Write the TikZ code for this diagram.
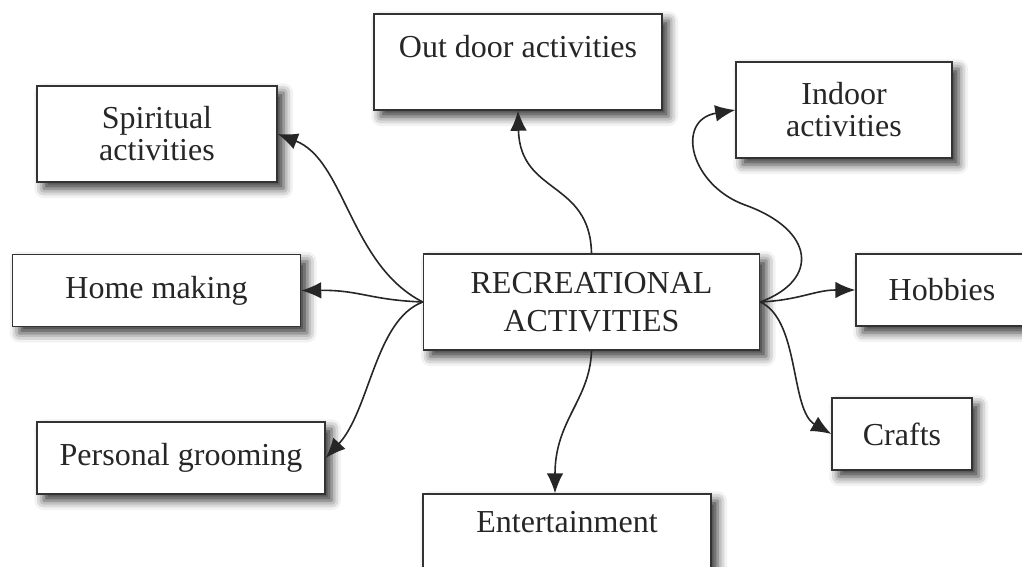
\documentclass[tikz,border=0pt]{standalone}
\usepackage{fontspec}
\setmainfont{Liberation Serif}
\usetikzlibrary{arrows.meta,shadows.blur}
\begin{document}
\begin{tikzpicture}[x=0.75pt,y=-0.75pt,
  box/.style={draw=black!80, line width=1.1pt, fill=white, inner sep=0pt, align=center,
    font=\fontsize{24}{24}\selectfont, text=black!85,
    blur shadow={shadow xshift=5pt, shadow yshift=-5pt, shadow blur radius=7pt, shadow opacity=80}},
  conn/.style={draw=black!85, line width=1.2pt, -{Latex[length=15pt,width=12.5pt]}}]
\useasboundingbox (0,0) rectangle (1022,567);
\node[box, minimum width=216pt, minimum height=72pt] (outdoor) at (518,62) {\raisebox{24pt}{Out door activities}};
\node[box, minimum width=180pt, minimum height=72pt] (spiritual) at (157,134) {Spiritual\\activities};
\node[box, minimum width=162pt, minimum height=72pt] (indoor) at (844,110) {Indoor\\activities};
\node[box, minimum width=216pt, minimum height=54pt] (home) at (156.5,290.5) {Home making};
\node[box, minimum width=252pt, minimum height=72pt, font=\fontsize{24}{29}\selectfont] (rec) at (591.5,302) {RECREATIONAL\\ACTIVITIES};
\node[box, minimum width=129pt, minimum height=54pt] (hobbies) at (942,290) {Hobbies};
\node[box, minimum width=105pt, minimum height=54pt] (crafts) at (902,434) {Crafts};
\node[box, minimum width=216pt, minimum height=54pt] (personal) at (181,458) {Personal grooming};
\node[box, minimum width=216pt, minimum height=64.5pt] (ent) at (567,537) {\raisebox{22.5pt}{Entertainment}};
\coordinate (loop) at (745,205);
\draw[conn] (rec.north) .. controls (590,180) and (520,195) .. (outdoor.south);
\draw[conn] (rec.south) .. controls (590,400) and (555,420) .. ([xshift=-9pt]ent.north);
\draw[conn] (rec.west) .. controls (350,265) and (345,160) .. (spiritual.east);
\draw[conn] (rec.west) .. controls (370,300) and (360,290) .. (home.east);
\draw[conn] (rec.west) .. controls (375,320) and (370,410) .. (personal.east);
\draw[conn] (rec.east) .. controls (820,280) and (815,230) .. (loop) .. controls (690,185) and (675,120) .. (indoor.west);
\draw[conn] (rec.east) .. controls (800,300) and (815,290) .. (hobbies.west);
\draw[conn] (rec.east) .. controls (800,320) and (790,410) .. (crafts.west);
\end{tikzpicture}
\end{document}
